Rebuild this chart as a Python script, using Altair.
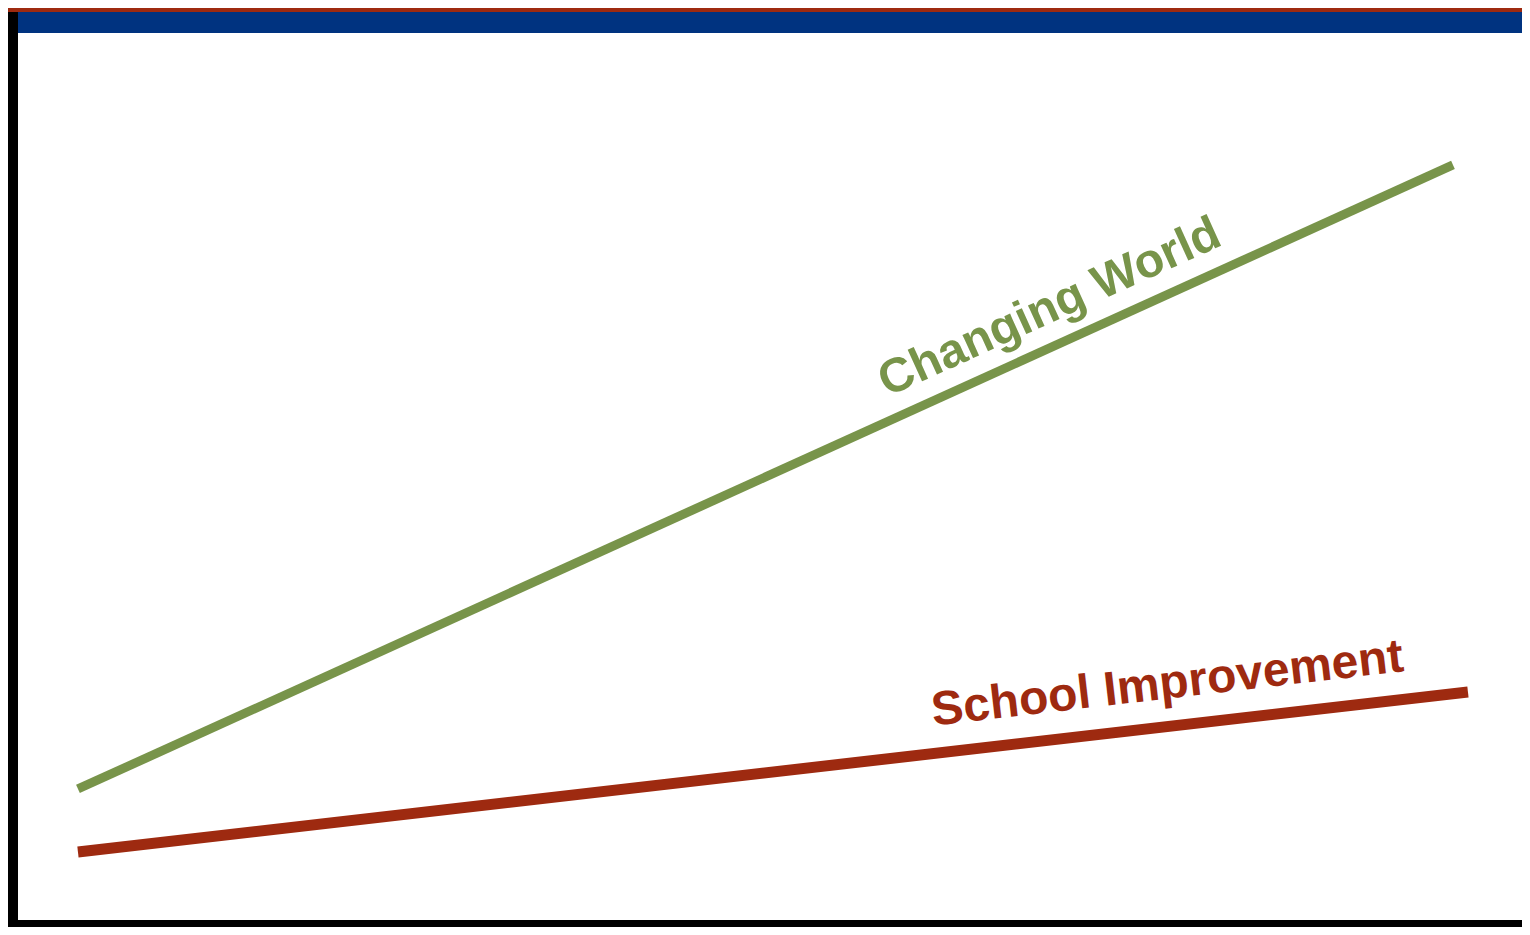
import altair as alt
import pandas as pd

# Line data (abstract units 0-100 on both axes)
series = ["Changing World", "Changing World", "School Improvement", "School Improvement"]
x_vals = [4.62, 95.44, 4.62, 96.43]
y_vals = [15.02, 82.92, 8.16, 25.57]

# Labels
label_text = ["Changing World", "School Improvement"]
label_x = [68.82, 76.58]
label_y = [67.36, 26.39]

GREEN = "#78944A"
RED = "#9E2A10"
BLUE = "#003380"

W, H = 1514, 919

df = pd.DataFrame({"series": series, "x": x_vals, "y": y_vals})
lab = pd.DataFrame({"label": label_text, "x": label_x, "y": label_y})
one = pd.DataFrame({"a": [0]})

xs = alt.Scale(domain=[0, 100], nice=False, zero=False)
ys = alt.Scale(domain=[0, 100], nice=False, zero=False)

blue_band = alt.Chart(one).mark_rect(color=BLUE).encode(
    x=alt.value(0), x2=alt.value(W), y=alt.value(4), y2=alt.value(25))
red_band = alt.Chart(one).mark_rect(color=RED).encode(
    x=alt.value(0), x2=alt.value(W), y=alt.value(0), y2=alt.value(4))
left_bar = alt.Chart(one).mark_rect(color="black").encode(
    x=alt.value(0), x2=alt.value(10), y=alt.value(4), y2=alt.value(919))
bottom_bar = alt.Chart(one).mark_rect(color="black").encode(
    x=alt.value(5), x2=alt.value(W), y=alt.value(912), y2=alt.value(919))

base = alt.Chart(df).encode(
    x=alt.X("x:Q", scale=xs, axis=None),
    y=alt.Y("y:Q", scale=ys, axis=None),
)
green_line = base.transform_filter(alt.datum.series == "Changing World").mark_line(
    color=GREEN, strokeWidth=9, strokeCap="butt")
red_line = base.transform_filter(alt.datum.series == "School Improvement").mark_line(
    color=RED, strokeWidth=11, strokeCap="butt")

tbase = alt.Chart(lab).encode(
    x=alt.X("x:Q", scale=xs, axis=None),
    y=alt.Y("y:Q", scale=ys, axis=None),
    text="label:N",
)
green_text = tbase.transform_filter(alt.datum.label == "Changing World").mark_text(
    font="Liberation Sans", fontWeight="bold", fontSize=48, color=GREEN,
    angle=335.6, align="center", baseline="middle")
red_text = tbase.transform_filter(alt.datum.label == "School Improvement").mark_text(
    font="Liberation Sans", fontWeight="bold", fontSize=48, color=RED,
    angle=353.4, align="center", baseline="middle")

chart = alt.layer(
    blue_band, red_band, left_bar, bottom_bar,
    green_line, red_line, green_text, red_text,
).properties(
    width=W, height=H, padding=0,
    autosize=alt.AutoSizeParams(type="fit", contains="padding"),
).configure_view(stroke=None)

chart.save("out.html", embed_options={"renderer": "svg", "actions": False})
